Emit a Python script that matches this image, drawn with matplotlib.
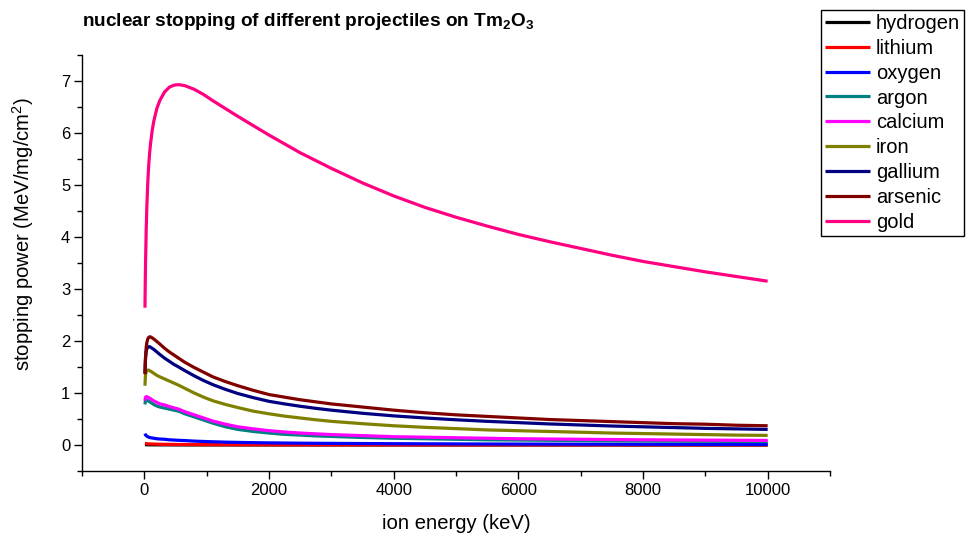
import matplotlib
matplotlib.use("Agg")
import matplotlib.pyplot as plt
from matplotlib.ticker import MultipleLocator

plt.rcParams['font.family'] = ['Liberation Sans', 'DejaVu Sans']
plt.rcParams['mathtext.fontset'] = 'custom'
plt.rcParams['mathtext.rm'] = 'Liberation Sans'
plt.rcParams['mathtext.bf'] = 'Liberation Sans:bold'

# ion energy grid (keV)
energy = [10, 15, 20, 30, 40, 55, 70, 85, 100, 125, 150, 200, 250, 325, 400, 475,
          550, 650, 800, 950, 1100, 1300, 1500, 1750, 2000, 2250, 2500, 2750, 3000,
          3500, 4000, 4500, 5000, 5500, 6000, 6500, 7000, 7500, 8000, 8500, 9000,
          9500, 10000]

# nuclear stopping power (MeV/mg/cm^2) for each projectile in Tm2O3
hydrogen = [0.006, 0.0058, 0.0055, 0.005, 0.0047, 0.0043, 0.004, 0.0037, 0.0035,
            0.0032, 0.003, 0.0027, 0.0024, 0.0021, 0.0019, 0.0017, 0.0016, 0.0014,
            0.0012, 0.0011, 0.001, 0.0009, 0.0008, 0.0007, 0.0007, 0.0006, 0.0006,
            0.0005, 0.0005, 0.0005, 0.0004, 0.0004, 0.0003, 0.0003, 0.0003, 0.0003,
            0.0003, 0.0002, 0.0002, 0.0002, 0.0002, 0.0002, 0.0002]
lithium = [0.030, 0.029, 0.028, 0.026, 0.025, 0.023, 0.022, 0.021, 0.020, 0.019,
           0.018, 0.016, 0.015, 0.013, 0.012, 0.011, 0.010, 0.009, 0.008, 0.007,
           0.0065, 0.006, 0.0055, 0.005, 0.0045, 0.004, 0.0038, 0.0035, 0.0033,
           0.003, 0.0027, 0.0025, 0.0023, 0.0021, 0.002, 0.0019, 0.0018, 0.0017,
           0.0016, 0.0015, 0.0014, 0.0014, 0.0013]
oxygen = [0.22, 0.205, 0.195, 0.18, 0.17, 0.16, 0.15, 0.145, 0.14, 0.135, 0.13,
          0.12, 0.115, 0.11, 0.10, 0.095, 0.09, 0.085, 0.075, 0.068, 0.062, 0.055,
          0.05, 0.045, 0.041, 0.038, 0.035, 0.033, 0.031, 0.028, 0.025, 0.023,
          0.021, 0.019, 0.018, 0.017, 0.016, 0.015, 0.014, 0.013, 0.012, 0.012,
          0.011]
argon = [0.78, 0.83, 0.85, 0.86, 0.86, 0.85, 0.84, 0.83, 0.82, 0.80, 0.78, 0.75,
         0.73, 0.71, 0.69, 0.67, 0.65, 0.60, 0.54, 0.48, 0.42, 0.35, 0.30, 0.26,
         0.23, 0.205, 0.19, 0.175, 0.165, 0.145, 0.13, 0.12, 0.11, 0.10, 0.095,
         0.09, 0.085, 0.08, 0.077, 0.074, 0.071, 0.069, 0.067]
calcium = [0.85, 0.90, 0.92, 0.93, 0.93, 0.92, 0.91, 0.90, 0.89, 0.87, 0.85, 0.82,
           0.79, 0.77, 0.74, 0.715, 0.69, 0.64, 0.58, 0.52, 0.46, 0.40, 0.35, 0.31,
           0.275, 0.25, 0.23, 0.215, 0.20, 0.18, 0.16, 0.15, 0.14, 0.13, 0.12,
           0.115, 0.11, 0.105, 0.10, 0.097, 0.094, 0.091, 0.088]
iron = [1.14, 1.28, 1.35, 1.41, 1.43, 1.44, 1.44, 1.43, 1.42, 1.40, 1.38, 1.34,
        1.31, 1.27, 1.23, 1.19, 1.15, 1.09, 1.00, 0.92, 0.85, 0.78, 0.72, 0.65,
        0.60, 0.555, 0.52, 0.485, 0.455, 0.41, 0.37, 0.34, 0.315, 0.29, 0.275,
        0.26, 0.245, 0.23, 0.22, 0.21, 0.20, 0.19, 0.185]
gallium = [1.38, 1.56, 1.68, 1.80, 1.85, 1.88, 1.89, 1.89, 1.88, 1.86, 1.84, 1.79,
           1.74, 1.67, 1.61, 1.55, 1.50, 1.43, 1.33, 1.24, 1.16, 1.07, 0.99, 0.91,
           0.84, 0.79, 0.745, 0.705, 0.67, 0.61, 0.56, 0.52, 0.485, 0.455, 0.43,
           0.405, 0.385, 0.365, 0.35, 0.335, 0.32, 0.31, 0.30]
arsenic = [1.36, 1.58, 1.72, 1.88, 1.97, 2.04, 2.07, 2.08, 2.08, 2.06, 2.04, 1.99,
           1.94, 1.86, 1.79, 1.73, 1.67, 1.59, 1.49, 1.40, 1.31, 1.22, 1.14, 1.05,
           0.97, 0.92, 0.87, 0.83, 0.79, 0.73, 0.67, 0.62, 0.58, 0.55, 0.52, 0.49,
           0.47, 0.45, 0.43, 0.41, 0.40, 0.38, 0.37]
gold = [2.64, 3.15, 3.55, 4.15, 4.58, 5.05, 5.38, 5.62, 5.80, 6.04, 6.22, 6.47,
        6.63, 6.79, 6.88, 6.92, 6.93, 6.91, 6.84, 6.74, 6.62, 6.47, 6.32, 6.14,
        5.96, 5.79, 5.62, 5.47, 5.32, 5.04, 4.79, 4.57, 4.38, 4.21, 4.05, 3.91,
        3.78, 3.65, 3.53, 3.43, 3.33, 3.24, 3.15]

names = ["hydrogen", "lithium", "oxygen", "argon", "calcium",
         "iron", "gallium", "arsenic", "gold"]
series = [hydrogen, lithium, oxygen, argon, calcium, iron, gallium, arsenic, gold]
colors = ["#000000", "#FF0000", "#0000FF", "#008080", "#FF00FF",
          "#808000", "#000080", "#800000", "#FF0080"]

fig = plt.figure(figsize=(9.66, 5.37), dpi=100)
ax = fig.add_axes([0.0849, 0.1229, 0.7743, 0.7747])

for name, vals, col in zip(names, series, colors):
    ax.plot(energy, vals, color=col, lw=2.3, label=name,
            solid_joinstyle='round', solid_capstyle='butt')

ax.set_xlim(-1000, 11000)
ax.set_ylim(-0.5, 7.5)
ax.xaxis.set_major_locator(MultipleLocator(2000))
ax.xaxis.set_minor_locator(MultipleLocator(1000))
ax.yaxis.set_major_locator(MultipleLocator(1))
ax.yaxis.set_minor_locator(MultipleLocator(0.5))

for side in ("top", "right"):
    ax.spines[side].set_visible(False)
for side in ("left", "bottom"):
    ax.spines[side].set_linewidth(1.0)

ax.tick_params(which='major', direction='out', length=5.5, width=1.0,
               labelsize=12, pad=3)
ax.tick_params(which='minor', direction='out', length=3.5, width=1.0)

ax.set_xlabel("ion energy (keV)", fontsize=14.6)
ax.set_ylabel("stopping power (MeV/mg/cm$^{2}$)", fontsize=14.6)
ax.xaxis.set_label_coords(0.501, -0.104)
ax.yaxis.set_label_coords(-0.061, 0.57)

fig.text(82 / 966, 1 - 21 / 537,
         r"nuclear stopping of different projectiles on Tm$_{\mathbf{2}}$O$_{\mathbf{3}}$",
         fontsize=13.7, fontweight='bold', ha='left', va='center')

leg = ax.legend(loc='upper right', bbox_to_anchor=(964 / 966, 1 - 10 / 537),
                bbox_transform=fig.transFigure, borderaxespad=0,
                fontsize=14.5, frameon=True, fancybox=False, framealpha=1,
                edgecolor='black', handlelength=2.24, handletextpad=0.3,
                labelspacing=0.29, borderpad=0.2)
leg.get_frame().set_linewidth(1.0)
for line in leg.get_lines():
    line.set_linewidth(2.3)

fig.savefig("out.png", dpi=100)
